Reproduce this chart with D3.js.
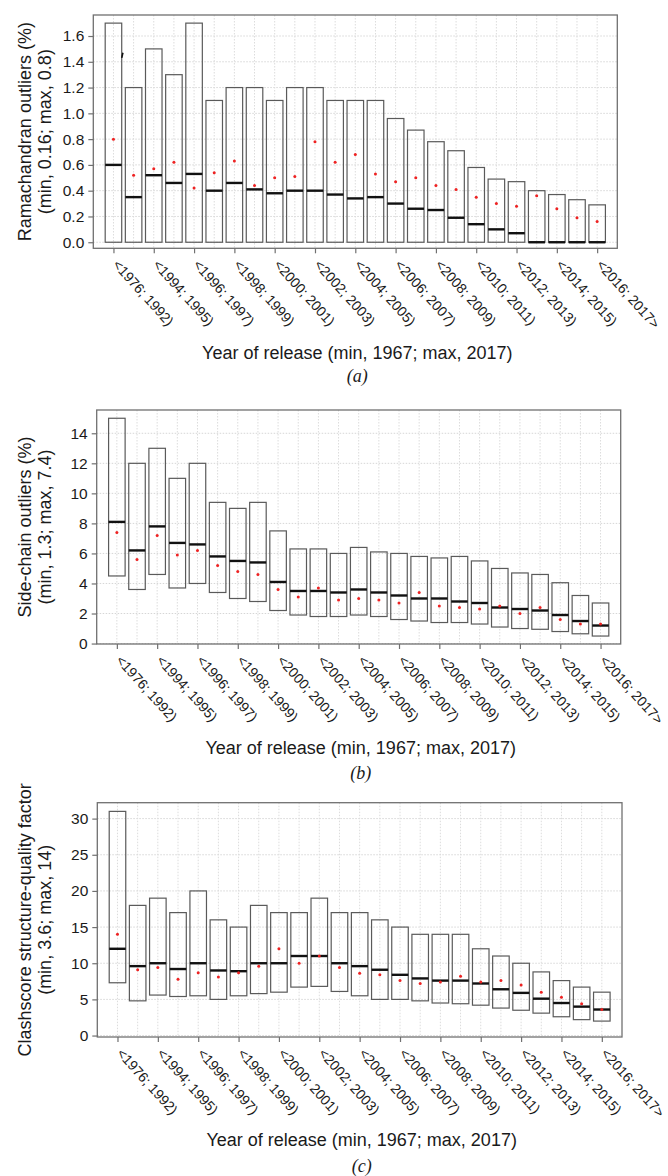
<!DOCTYPE html>
<html>
<head>
<meta charset="utf-8">
<script src="https://cdn.jsdelivr.net/npm/d3@7"></script>
<style>
  body { margin: 0; background: #fff; }
  svg { display: block; }
  text { font-family: "Liberation Sans", Arial, sans-serif; fill: #1a1a1a; }
</style>
</head>
<body>
<script>
var width = 668;
var height = 1176;

// release-year bins (only every other one gets a label)
var bins = ["<1976; 1992)", "<1992; 1994)", "<1994; 1995)", "<1995; 1996)", "<1996; 1997)",
  "<1997; 1998)", "<1998; 1999)", "<1999; 2000)", "<2000; 2001)", "<2001; 2002)",
  "<2002; 2003)", "<2003; 2004)", "<2004; 2005)", "<2005; 2006)", "<2006; 2007)",
  "<2007; 2008)", "<2008; 2009)", "<2009; 2010)", "<2010; 2011)", "<2011; 2012)",
  "<2012; 2013)", "<2013; 2014)", "<2014; 2015)", "<2015; 2016)", "<2016; 2017>"];
var labelledBins = bins.filter(function(d, i) { return i % 2 === 0; });

// (a) Ramachandran outliers
var ramaLow    = [0,0,0,0,0, 0,0,0,0,0, 0,0,0,0,0, 0,0,0,0,0, 0,0,0,0,0];
var ramaHigh   = [1.7,1.2,1.5,1.3,1.7, 1.1,1.2,1.2,1.1,1.2, 1.2,1.1,1.1,1.1,0.96, 0.87,0.78,0.71,0.58,0.49, 0.47,0.40,0.37,0.33,0.29];
var ramaMedian = [0.60,0.35,0.52,0.46,0.53, 0.40,0.46,0.41,0.38,0.40, 0.40,0.37,0.34,0.35,0.30, 0.26,0.25,0.19,0.14,0.10, 0.07,0,0,0,0];
var ramaMean   = [0.80,0.52,0.57,0.62,0.42, 0.54,0.63,0.44,0.50,0.51, 0.78,0.62,0.68,0.53,0.47, 0.50,0.44,0.41,0.35,0.30, 0.28,0.36,0.26,0.19,0.16];
var ramaTicks  = [0, 0.2, 0.4, 0.6, 0.8, 1.0, 1.2, 1.4, 1.6];
var ramaStray  = [{ bin: 0, from: 1.43, to: 1.47 }];

// (b) side-chain outliers
var scLow    = [4.5,3.6,4.6,3.7,4.0, 3.4,3.0,2.8,2.2,1.9, 1.8,1.8,1.9,1.8,1.6, 1.5,1.4,1.4,1.3,1.1, 1.0,0.95,0.8,0.65,0.5];
var scHigh   = [15,12,13,11,12, 9.4,9.0,9.4,7.5,6.3, 6.3,6.0,6.4,6.1,6.0, 5.8,5.7,5.8,5.5,5.0, 4.7,4.6,4.05,3.2,2.7];
var scMedian = [8.1,6.2,7.8,6.7,6.6, 5.8,5.5,5.4,4.1,3.5, 3.5,3.4,3.6,3.4,3.2, 3.0,3.0,2.8,2.7,2.4, 2.3,2.2,1.9,1.5,1.2];
var scMean   = [7.4,5.6,7.2,5.9,6.2, 5.2,4.8,4.6,3.6,3.1, 3.7,2.9,3.0,2.9,2.7, 3.4,2.5,2.4,2.3,2.5, 2.0,2.4,1.6,1.3,1.3];
var scTicks  = [0, 2, 4, 6, 8, 10, 12, 14];

// (c) clashscore
var csLow    = [7.3,4.8,5.6,5.4,5.5, 5.0,5.5,5.8,6.0,6.7, 6.8,6.1,5.5,5.0,5.0, 4.8,4.5,4.4,4.2,3.8, 3.5,3.1,2.6,2.2,2.0];
var csHigh   = [31,18,19,17,20, 16,15,18,17,17, 19,17,17,16,15, 14,14,14,12,11, 10,8.8,7.6,6.7,6.0];
var csMedian = [12,9.6,10,9.2,10, 9.0,8.9,10,10,11, 11,10,9.6,9.1,8.4, 7.9,7.6,7.6,7.2,6.4, 5.9,5.1,4.5,4.0,3.6];
var csMean   = [14,9.1,9.4,7.8,8.7, 8.1,8.7,9.6,12,10, 11,9.4,8.6,8.4,7.6, 7.2,7.4,8.2,7.4,7.6, 7.0,6.0,5.3,4.4,3.6];
var csTicks  = [0, 5, 10, 15, 20, 25, 30];

var panels = [
  { low: ramaLow, high: ramaHigh, median: ramaMedian, mean: ramaMean, ticks: ramaTicks,
    fmt: d3.format(".1f"), yMin: -0.047, yMax: 1.763, stray: ramaStray,
    title: ["Ramachandran outliers (%)", "(min, 0.16; max, 0.8)"], tag: "a",
    frame: { left: 93.3, right: 617.3, top: 15, bottom: 248.3 }, xTitleY: 353, tagY: 377 },
  { low: scLow, high: scHigh, median: scMedian, mean: scMean, ticks: scTicks,
    fmt: d3.format("d"), yMin: -0.03, yMax: 15.55, stray: [],
    title: ["Side-chain outliers (%)", "(min, 1.3; max, 7.4)"], tag: "b",
    frame: { left: 96.7, right: 620.7, top: 410, bottom: 644 }, xTitleY: 748, tagY: 774 },
  { low: csLow, high: csHigh, median: csMedian, mean: csMean, ticks: csTicks,
    fmt: d3.format("d"), yMin: -0.2, yMax: 32.2, stray: [],
    title: ["Clashscore structure-quality factor", "(min, 3.6; max, 14)"], tag: "c",
    frame: { left: 97.3, right: 622, top: 802.7, bottom: 1037 }, xTitleY: 1140, tagY: 1167 }
];

var svg = d3.select("body")
  .append("svg")
  .attr("width", width)
  .attr("height", height);

panels.forEach(drawPanel);

function drawPanel(p) {
  var f = p.frame;
  var g = svg.append("g");
  var centerX = (f.left + f.right) / 2 + 2;

  var x = d3.scalePoint()
    .domain(bins)
    .range([f.left, f.right])
    .padding(1);

  var y = d3.scaleLinear()
    .domain([p.yMin, p.yMax])
    .range([f.bottom, f.top]);

  var boxW = x.step() * 0.82;

  // dotted grid
  g.append("g").selectAll("line.h")
    .data(p.ticks)
    .enter().append("line")
    .attr("x1", f.left).attr("x2", f.right)
    .attr("y1", function(d) { return y(d); })
    .attr("y2", function(d) { return y(d); })
    .style("stroke", "#d6d6d6")
    .style("stroke-dasharray", "1.5,1.5");

  g.append("g").selectAll("line.v")
    .data(bins)
    .enter().append("line")
    .attr("x1", function(d) { return x(d); })
    .attr("x2", function(d) { return x(d); })
    .attr("y1", f.top).attr("y2", f.bottom)
    .style("stroke", "#dcdcdc")
    .style("stroke-dasharray", "1.5,1.5");

  // frame
  g.append("rect")
    .attr("x", f.left).attr("y", f.top)
    .attr("width", f.right - f.left).attr("height", f.bottom - f.top)
    .style("fill", "none")
    .style("stroke", "#707070")
    .style("stroke-width", 1.3);

  // boxes
  g.append("g").selectAll("rect")
    .data(bins)
    .enter().append("rect")
    .attr("x", function(d) { return x(d) - boxW / 2; })
    .attr("width", boxW)
    .attr("y", function(d, i) { return y(p.high[i]); })
    .attr("height", function(d, i) { return y(p.low[i]) - y(p.high[i]); })
    .style("fill", "none")
    .style("stroke", "#5a5a5a")
    .style("stroke-width", 1.2);

  // medians
  g.append("g").selectAll("line")
    .data(bins)
    .enter().append("line")
    .attr("x1", function(d) { return x(d) - boxW / 2; })
    .attr("x2", function(d) { return x(d) + boxW / 2; })
    .attr("y1", function(d, i) { return y(p.median[i]); })
    .attr("y2", function(d, i) { return y(p.median[i]); })
    .style("stroke", "#111")
    .style("stroke-width", 2.4);

  // means
  g.append("g").selectAll("circle")
    .data(bins)
    .enter().append("circle")
    .attr("cx", function(d) { return x(d); })
    .attr("cy", function(d, i) { return y(p.mean[i]); })
    .attr("r", 1.5)
    .style("fill", "#ee2222");

  g.append("g").selectAll("line")
    .data(p.stray)
    .enter().append("line")
    .attr("x1", function(d) { return x(bins[d.bin]) + boxW / 2; })
    .attr("x2", function(d) { return x(bins[d.bin]) + boxW / 2 + 1.2; })
    .attr("y1", function(d) { return y(d.from); })
    .attr("y2", function(d) { return y(d.to); })
    .style("stroke", "#111")
    .style("stroke-width", 1.6);

  // y axis
  var yAxis = g.append("g")
    .attr("transform", "translate(" + f.left + ",0)")
    .call(d3.axisLeft(y).tickValues(p.ticks).tickFormat(p.fmt).tickSize(5).tickPadding(4));
  yAxis.select(".domain").remove();
  yAxis.selectAll("line").style("stroke", "#707070").style("stroke-width", 1.2);
  yAxis.selectAll("text").style("font-size", "15.5px").style("fill", "#1a1a1a");

  // x axis, labels rotated
  var xAxis = g.append("g")
    .attr("transform", "translate(0," + f.bottom + ")")
    .call(d3.axisBottom(x).tickValues(labelledBins).tickSize(5));
  xAxis.select(".domain").remove();
  xAxis.selectAll("line").style("stroke", "#707070").style("stroke-width", 1.2);
  xAxis.selectAll("text")
    .attr("y", 0).attr("dy", 0)
    .attr("transform", "translate(-2,17) rotate(48)")
    .style("text-anchor", "start")
    .style("font-size", "14px")
    .style("fill", "#1a1a1a");

  // titles
  var cy = (f.top + f.bottom) / 2;
  g.append("text")
    .attr("transform", "translate(31," + cy + ") rotate(-90)")
    .style("text-anchor", "middle")
    .style("font-size", "18px")
    .text(p.title[0]);
  g.append("text")
    .attr("transform", "translate(51," + cy + ") rotate(-90)")
    .style("text-anchor", "middle")
    .style("font-size", "18px")
    .text(p.title[1]);

  g.append("text")
    .attr("x", centerX).attr("y", p.xTitleY + 6)
    .style("text-anchor", "middle")
    .style("font-size", "18px")
    .text("Year of release (min, 1967; max, 2017)");

  g.append("text")
    .attr("x", centerX).attr("y", p.tagY + 5)
    .style("text-anchor", "middle")
    .style("font-family", "'Liberation Serif', 'Times New Roman', serif")
    .style("font-style", "italic")
    .style("font-size", "18px")
    .text("(" + p.tag + ")");
}
</script>
</body>
</html>
